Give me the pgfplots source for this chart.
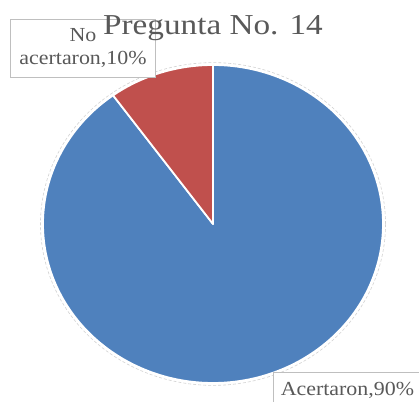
\documentclass[border=0pt]{standalone}
\usepackage{pgfplots}
\pgfplotsset{compat=1.18}
\usepackage{fontspec}
\setmainfont{Liberation Serif}
\newfontfamily\titlefont[FakeStretch=1.15]{Liberation Serif}
\newfontfamily\labelfont[FakeStretch=1.1]{Liberation Serif}
\definecolor{pieblue}{HTML}{4F81BD}
\definecolor{piered}{HTML}{C0504D}
\definecolor{txtgray}{HTML}{595959}
\definecolor{boxgray}{HTML}{BFBFBF}
% Pregunta No. 14: Acertaron 90, No acertaron 10 (slices start at 12 o'clock)
\def\angStart{90}
\def\angSplit{126}  % 90 + 3.6*10
\def\angEnd{450}
\begin{document}
\begin{tikzpicture}
\path[use as bounding box] (0,0) rectangle (419bp,402bp);
\begin{axis}[
  at={(213bp,178bp)}, anchor=center,
  scale only axis, width=340bp, height=318bp,
  xmin=-1, xmax=1, ymin=-1, ymax=1,
  hide axis, clip=false,
  data cs=polar,
]
\addplot[draw=gray!35, densely dashed, line width=0.6pt, domain=0:360, samples=181] (x,1.015);
\addplot[fill=pieblue, draw=white, line width=1.8pt, line join=round, domain=\angSplit:\angEnd, samples=200] (x,1) -- (axis cs:0,0) -- cycle;
\addplot[fill=piered, draw=white, line width=1.8pt, line join=round, domain=\angStart:\angSplit, samples=30] (x,1) -- (axis cs:0,0) -- cycle;
\end{axis}
\node[draw=boxgray, line width=0.8pt, fill=white, align=center, text=txtgray,
  minimum width=145bp, minimum height=58bp, inner sep=2bp,
  font=\labelfont\fontsize{20}{24}\selectfont] at (83bp,354bp) {No\\acertaron,10\%};
\node[anchor=base, text=txtgray, font=\titlefont\fontsize{29}{32}\selectfont] at (213bp,367bp) {Pregunta No. 14};
\node[draw=boxgray, line width=0.8pt, fill=white, anchor=north west, text=txtgray,
  minimum width=148bp, minimum height=36bp, inner sep=2bp, text height=14bp,
  font=\labelfont\fontsize{20}{24}\selectfont] at (273bp,30bp) {Acertaron,90\%};
\end{tikzpicture}
\end{document}
